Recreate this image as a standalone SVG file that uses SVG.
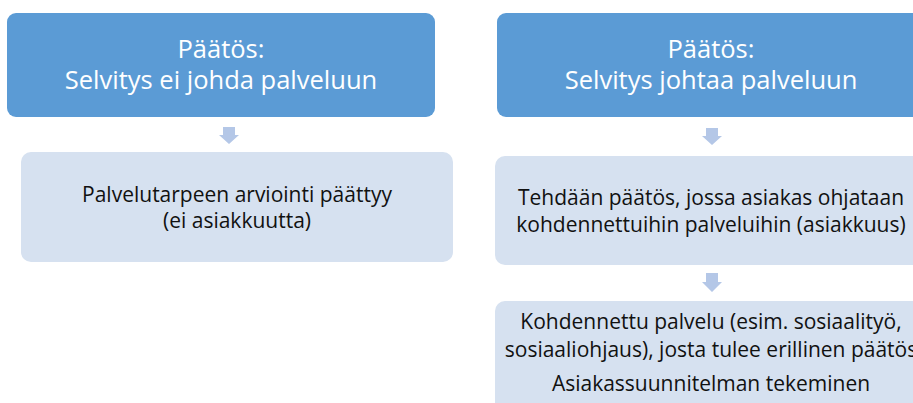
<svg xmlns="http://www.w3.org/2000/svg" width="913" height="403" viewBox="0 0 913 403">
<style>
.top{fill:#5B9BD5}
.sub{fill:#D6E1F0}
.tw{fill:#FFFFFF;font-family:"Open Sans","Liberation Sans",sans-serif;font-size:25.5px;text-anchor:middle}
.tb{fill:#111111;font-family:"Open Sans","Liberation Sans",sans-serif;font-size:21px;text-anchor:middle}
.arr{fill:#B4C7E7}
</style>
<rect width="913" height="403" fill="#FFFFFF"/>
<g id="n1">
<rect class="top" x="7" y="13" width="428" height="104" rx="9"/>
<text class="tw" x="221" y="58">Päätös:</text>
<text class="tw" x="221" y="89">Selvitys ei johda palveluun</text>
</g>
<g id="n2">
<rect class="sub" x="21" y="152" width="432" height="110" rx="10"/>
<text class="tb" x="237" y="202">Palvelutarpeen arviointi päättyy</text>
<text class="tb" x="237" y="228">(ei asiakkuutta)</text>
</g>
<g id="n3">
<rect class="top" x="497" y="13" width="428" height="104" rx="9"/>
<text class="tw" x="711" y="58">Päätös:</text>
<text class="tw" x="711" y="89">Selvitys johtaa palveluun</text>
</g>
<g id="n4">
<rect class="sub" x="495" y="156" width="432" height="109" rx="10"/>
<text class="tb" x="711" y="205">Tehdään päätös, jossa asiakas ohjataan</text>
<text class="tb" x="711" y="232">kohdennettuihin palveluihin (asiakkuus)</text>
</g>
<g id="n5">
<rect class="sub" x="495" y="301" width="432" height="120" rx="10"/>
<text class="tb" x="711" y="329">Kohdennettu palvelu (esim. sosiaalityö,</text>
<text class="tb" x="711" y="357">sosiaaliohjaus), josta tulee erillinen päätös</text>
<text class="tb" x="711" y="391">Asiakassuunnitelman tekeminen</text>
</g>
<g id="connectors">
<polygon class="arr" points="223,127 235,127 235,135 239,135 229,144 219,135 223,135"/>
<polygon class="arr" points="706,128 718,128 718,136 722,136 712,145 702,136 706,136"/>
<polygon class="arr" points="706,273 718,273 718,282 722,282 712,292 702,282 706,282"/>
</g>
</svg>
